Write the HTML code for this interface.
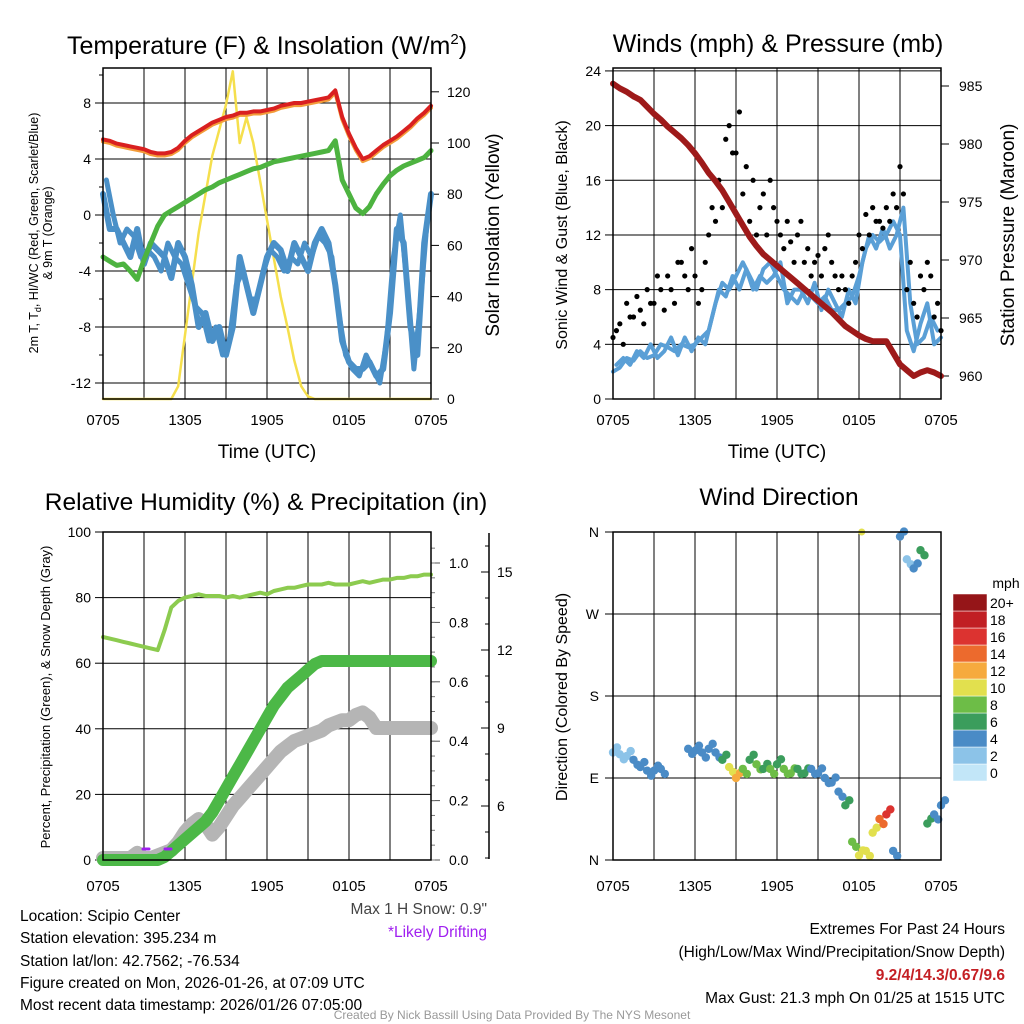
<!DOCTYPE html>
<html><head><meta charset="utf-8"><style>
body{margin:0;background:#fff;}
svg{display:block;font-family:"Liberation Sans",sans-serif;}
</style></head><body>
<svg id="s" width="1024" height="1024" viewBox="0 0 1024 1024" xmlns="http://www.w3.org/2000/svg">
<rect width="1024" height="1024" fill="#fff"/>
<g id="g1"></g>
<g id="g2"></g>
<g id="g3"></g>
<g id="g4"></g>
<g id="txt" font-size="15.5" fill="#000">
<text x="20" y="921">Location: Scipio Center</text>
<text x="20" y="943">Station elevation: 395.234 m</text>
<text x="20" y="966">Station lat/lon: 42.7562; -76.534</text>
<text x="20" y="982" dy="6">Figure created on Mon, 2026-01-26, at 07:09 UTC</text>
<text x="20" y="1004" dy="6">Most recent data timestamp: 2026/01/26 07:05:00</text>
<text x="487" y="914" text-anchor="end" fill="#444">Max 1 H Snow: 0.9"</text>
<text x="487" y="937" text-anchor="end" fill="#a020f0">*Likely Drifting</text>
<text x="1005" y="934" text-anchor="end">Extremes For Past 24 Hours</text>
<text x="1005" y="957" text-anchor="end">(High/Low/Max Wind/Precipitation/Snow Depth)</text>
<text x="1005" y="980" text-anchor="end" fill="#c41f24" font-weight="bold">9.2/4/14.3/0.67/9.6</text>
<text x="1005" y="1003" text-anchor="end">Max Gust: 21.3 mph On 01/25 at 1515 UTC</text>
<text x="512" y="1019" text-anchor="middle" font-size="12" fill="#999">Created By Nick Bassill Using Data Provided By The NYS Mesonet</text>
</g>
</svg>
<script>
// ---------- data (half-hourly, hours 0..24 from 0705 UTC) ----------
const timeLabels=["0705","1305","1905","0105","0705"];
const tempRed=[5.4,5.3,5.1,5.0,4.9,4.8,4.7,4.5,4.4,4.4,4.5,4.8,5.3,5.7,6.0,6.3,6.6,6.8,7.0,7.1,7.3,7.3,7.4,7.4,7.5,7.6,7.8,7.9,8.0,8.0,8.1,8.2,8.3,8.4,8.9,7.0,5.8,4.8,4.0,4.2,4.6,5.0,5.3,5.6,6.0,6.4,6.9,7.3,7.8];
const tempGreen=[-3.0,-3.3,-3.6,-3.5,-4.0,-4.6,-3.2,-2.0,-0.8,0.0,0.3,0.6,0.9,1.2,1.5,1.8,2.0,2.3,2.5,2.7,2.9,3.1,3.3,3.4,3.6,3.8,3.9,4.0,4.1,4.2,4.3,4.4,4.5,4.6,5.3,2.5,1.5,0.5,0.1,0.6,1.5,2.2,2.8,3.2,3.5,3.7,3.9,4.1,4.6];
const tempBlue=[1.5,-1,-1,-2,-3,-1,-3.5,-2,-2.5,-3,-4.5,-2,-3,-5,-8,-7,-9,-8,-10,-8,-3,-5,-7,-5,-3,-2,-2.5,-4,-2,-3,-4,-2,-1,-2,-5,-9,-10.5,-11,-11,-10.5,-11.5,-11,-7,-1,-2,-8,-10,-2,1.5];
const tempBlue2=[2.5,0,-2,-1,-1.5,-3,-2.5,-3,-4,-2,-3,-3.5,-5,-6.5,-7,-9,-8,-10,-9,-5,-4,-6,-6,-4,-2.5,-3,-4,-3,-3.5,-2,-3,-1.5,-2,-3,-7,-10,-11,-11.5,-10,-11,-12,-9,-3,0,-5,-11,-6,0,2];
const solar=[0,0,0,0,0,0,0,0,0,0,0,5,25,45,65,80,95,105,115,128,100,110,100,85,70,55,40,28,15,5,1,0,0,0,0,0,0,0,0,0,0,0,0,0,0,0,0,0,0];
const windSpd=[2,2.3,3,2.8,3.5,3,3.2,4,3.8,3.5,4,3.8,4,4.5,5,7,8.5,8,9,10,9,8,9.5,10,9,8,7.5,7,8,7.5,7,7.5,6.5,6.5,7,7.5,9,11,12,11.5,12,13,12,5,3.5,5.5,7,4,4.5];
const windSpd2=[2.5,3,2.5,3.5,3,4,3,3.5,4.5,3.2,4.5,3.5,4.5,4,6,8,7.5,9,8,9.5,8,9,8.5,9,10,7,8,8,7,8.5,6.5,8,7,6,8,7,10,12,11,12.5,11,12,14,7,4,4.5,6,5,3.5];
const windGust=[4.5,5.5,7,6,6.5,8,7,8,9,7,10,8,9,8,12,13,14,20,18,15,13,12,15,16,13,11,11.5,12,10,9,10.5,11,10,8,8,9,12,13.5,14,13,14,15,17,8,7,9,10,6,5];
const windGust2=[5,4,6,7.5,5.5,7,9,6.5,8,10,9,11,7,10,14,16,19,18,21,17,16,14,12,14,12,13,10,13,11,10,9,12,9,9,7,10,11,12,13,12.5,13,14,15,10,6,8,9,7,4.5];
const pressure=[985.2,984.8,984.5,984.1,983.8,983.2,982.6,982.1,981.5,981.0,980.5,979.9,979.2,978.4,977.5,976.8,976,975,974,973,972,971.2,970.5,970,969.5,969,968.5,968,967.5,967,966.5,966,965.5,964.9,964.3,963.9,963.5,963.2,963,963,963,962,961,960.5,960,960.3,960.5,960.3,960];
const rh=[68,67.5,67,66.5,66,65.5,65,64.5,64,70,77,79,80,80.5,81,80.5,80.5,80.5,80,80.5,80,80.5,81,81.5,81,82,82.5,83,83,83.5,84,84,84,84.5,84,84,84,84.5,85,84.5,85,85.5,85.5,86,86,86.5,86.5,87,87];
const precip=[0,0,0,0,0,0,0,0,0,0.01,0.03,0.05,0.07,0.09,0.11,0.13,0.16,0.2,0.24,0.28,0.32,0.36,0.4,0.44,0.48,0.52,0.55,0.58,0.6,0.62,0.64,0.66,0.67,0.67,0.67,0.67,0.67,0.67,0.67,0.67,0.67,0.67,0.67,0.67,0.67,0.67,0.67,0.67,0.67];
const snow=[4.0,4.0,4.0,4.0,4.0,4.2,4.0,4.0,4.1,4.2,4.3,4.6,5.0,5.3,5.5,5.3,4.9,5.2,5.6,6.0,6.3,6.6,6.9,7.2,7.5,7.8,8.1,8.3,8.5,8.6,8.7,8.8,8.9,9.1,9.2,9.3,9.3,9.5,9.6,9.4,9.0,9.0,9.0,9.0,9.0,9.0,9.0,9.0,9.0];
const windDir=[118,116,114,110,102,98,98,100,null,null,null,122,120,118,122,118,110,102,90,100,110,105,100,100,105,100,95,100,95,100,95,90,85,75,60,20,5,10,30,45,50,10,355,330,320,340,40,50,60];
const dirSpd=[2,2,2,3,4,4,4,4,null,null,null,4,4,4,4,4,6,10,12,8,6,8,6,8,6,8,8,6,6,4,4,4,4,4,6,8,10,10,10,14,16,4,4,2,4,6,6,4,4];
const cbLabels=["0","2","4","6","8","10","12","14","16","18","20+"];
const cbColors=["#c2e6f8","#8cc3e8","#4a8bc6","#3b9d5c","#6dbd47","#e2e04e","#f6aa3e","#ec6a2d","#dc3330","#c11f24","#951518"];

const NS="http://www.w3.org/2000/svg";
function mk(p,tag,at){const e=document.createElementNS(NS,tag);for(const k in at)e.setAttribute(k,at[k]);p.appendChild(e);return e;}
function txt(p,x,y,s,at){const e=mk(p,'text',Object.assign({x:x,y:y},at||{}));e.textContent=s;return e;}
const hrs=tempRed.map((_,i)=>i*0.5);

function frame(g,x0,y0,x1,y1,off){
  for(let k=1;k<8;k++){const x=x0+(x1-x0)*k/8;const l=mk(g,'line',{x1:x,x2:x,y1:y0,y2:y1,stroke:'#000','stroke-width':1});
  }
  timeLabels.forEach((s,i)=>{const x=x0+(x1-x0)*i/4;const t=txt(g,x,y1+off,s,{'text-anchor':'middle','font-size':15});
  });
}
function border(g,x0,y0,x1,y1){const r=mk(g,'rect',{x:x0,y:y0,width:x1-x0,height:y1-y0,fill:'none',stroke:'#000','stroke-width':1.5});
}
function poly(g,xs,ys,at,name){const pts=[];xs.forEach((x,i)=>{if(ys[i]!=null)pts.push(x.toFixed(1)+','+ys[i].toFixed(1));});
const p=mk(g,'polyline',Object.assign({points:pts.join(' '),fill:'none','stroke-linejoin':'round','stroke-linecap':'round'},at));
return p;}

// ---------- Panel 1 ----------
(function(){const g=document.getElementById('g1');const x0=103,x1=431,y0=68,y1=399;
const X=h=>x0+(x1-x0)*h/24, Y=v=>215-14*v, YS=v=>399-2.56*v;
frame(g,x0,y0,x1,y1,26);
[8,4,0,-4,-8,-12].forEach(v=>{mk(g,'line',{x1:x0,x2:x1,y1:Y(v),y2:Y(v),stroke:'#000'});
 const t=txt(g,x0-12,Y(v)+5,String(v),{'text-anchor':'end','font-size':14});
 mk(g,'line',{x1:x0-8,x2:x0,y1:Y(v),y2:Y(v),stroke:'#000'});});
for(let v=-12;v<=10;v+=2)mk(g,'line',{x1:x0-4,x2:x0,y1:Y(v),y2:Y(v),stroke:'#000'});
[0,20,40,60,80,100,120].forEach(v=>{const t=txt(g,x1+16,YS(v)+5,String(v),{'font-size':14});
 mk(g,'line',{x1:x1,x2:x1+8,y1:YS(v),y2:YS(v),stroke:'#000'});});
const xs=hrs.map(X);const xs2=hrs.map(h=>X(h+0.25));
poly(g,xs,solar.map(YS),{stroke:'#f5df4d','stroke-width':2.5},'solar-line');
poly(g,xs,tempBlue.map(Y),{stroke:'#4a90c8','stroke-width':6},'windchill-line');
poly(g,xs2.slice(0,48),tempBlue2.slice(0,48).map(Y),{stroke:'#4a90c8','stroke-width':5},'windchill-line-detail');
poly(g,xs,tempGreen.map(Y),{stroke:'#4db340','stroke-width':5},'dewpoint-line');
poly(g,xs,tempRed.map(v=>Y(v-0.15)),{stroke:'#f39c3a','stroke-width':4},'temp-9m-line');
poly(g,xs,tempRed.map(Y),{stroke:'#d92020','stroke-width':4},'temp-2m-line');
border(g,x0,y0,x1,y1);
let t=txt(g,267,54,'Temperature (F) & Insolation (W/m',{'text-anchor':'middle','font-size':25});const ts=mk(t,'tspan',{dy:-10,'font-size':15});ts.textContent='2';const ts2=mk(t,'tspan',{dy:10});ts2.textContent=')';

t=txt(g,267,458,'Time (UTC)',{'text-anchor':'middle','font-size':19});
t=txt(g,0,0,'2m T, T',{'text-anchor':'middle','font-size':12.5,transform:'translate(38,233) rotate(-90)'});const sb=mk(t,'tspan',{'font-size':9,dy:3});sb.textContent='d';const r=mk(t,'tspan',{dy:-3});r.textContent=', HI/WC (Red, Green, Scarlet/Blue)';

t=txt(g,0,0,'& 9m T (Orange)',{'text-anchor':'middle','font-size':12.5,transform:'translate(52,233) rotate(-90)'});
t=txt(g,0,0,'Solar Insolation (Yellow)',{'text-anchor':'middle','font-size':19,transform:'translate(499,235) rotate(-90)'});
})();

// ---------- Panel 2 ----------
(function(){const g=document.getElementById('g2');const x0=613,x1=941,y0=68,y1=399;
const X=h=>x0+(x1-x0)*h/24, Y=v=>399-13.67*v, YP=p=>376-(p-960)*11.6;
frame(g,x0,y0,x1,y1,26);
[0,4,8,12,16,20,24].forEach(v=>{mk(g,'line',{x1:x0,x2:x1,y1:Y(v),y2:Y(v),stroke:'#000'});
 const t=txt(g,x0-12,Y(v)+5,String(v),{'text-anchor':'end','font-size':14});
 mk(g,'line',{x1:x0-8,x2:x0,y1:Y(v),y2:Y(v),stroke:'#000'});});
[960,965,970,975,980,985].forEach(v=>{const t=txt(g,x1+18,YP(v)+5,String(v),{'font-size':14});
 mk(g,'line',{x1:x1,x2:x1+8,y1:YP(v),y2:YP(v),stroke:'#000'});});
const xs=hrs.map(X);const xs2=hrs.map(h=>X(h+0.25));
poly(g,xs,windSpd.map(Y),{stroke:'#5a9fd6','stroke-width':4},'wind-speed-line');
poly(g,xs2.slice(0,48),windSpd2.slice(0,48).map(Y),{stroke:'#5a9fd6','stroke-width':4},'wind-speed-line-detail');
windGust.forEach((v,i)=>{const c=mk(g,'circle',{cx:X(hrs[i]),cy:Y(v),r:2.6,fill:'#000'});});
windGust2.forEach((v,i)=>{if(i>47)return;const c=mk(g,'circle',{cx:X(hrs[i]+0.25),cy:Y(v),r:2.6,fill:'#000'});});
poly(g,xs,pressure.map(YP),{stroke:'#9e1a1a','stroke-width':6},'pressure-line');
border(g,x0,y0,x1,y1);
let t=txt(g,778,52,'Winds (mph) & Pressure (mb)',{'text-anchor':'middle','font-size':25});
t=txt(g,777,458,'Time (UTC)',{'text-anchor':'middle','font-size':19});
t=txt(g,0,0,'Sonic Wind & Gust (Blue, Black)',{'text-anchor':'middle','font-size':16,transform:'translate(567,235) rotate(-90)'});
t=txt(g,0,0,'Station Pressure (Maroon)',{'text-anchor':'middle','font-size':19,transform:'translate(1014,235) rotate(-90)'});
})();

// ---------- Panel 3 ----------
(function(){const g=document.getElementById('g3');const x0=103,x1=431,y0=532,y1=860;
const X=h=>x0+(x1-x0)*h/24, Y=v=>860-3.28*v, YR=v=>860-297*v, YSn=v=>962-26*v;
frame(g,x0,y0,x1,y1,31);
[0,20,40,60,80,100].forEach(v=>{mk(g,'line',{x1:x0,x2:x1,y1:Y(v),y2:Y(v),stroke:'#000'});
 const t=txt(g,x0-12,Y(v)+5,String(v),{'text-anchor':'end','font-size':14});
 mk(g,'line',{x1:x0-8,x2:x0,y1:Y(v),y2:Y(v),stroke:'#000'});});
[0,0.2,0.4,0.6,0.8,1.0].forEach(v=>{const t=txt(g,x1+18,YR(v)+5,v.toFixed(1),{'font-size':14});
 mk(g,'line',{x1:x1,x2:x1+9,y1:YR(v),y2:YR(v),stroke:'#555'});});
for(let v=0;v<=1.1;v+=0.05)mk(g,'line',{x1:x1,x2:x1+4,y1:YR(v),y2:YR(v),stroke:'#777'});
mk(g,'line',{x1:489,x2:489,y1:533,y2:859,stroke:'#000','stroke-width':1.5});
[6,9,12,15].forEach(v=>{const t=txt(g,497,YSn(v)+5,String(v),{'font-size':14});
 mk(g,'line',{x1:481,x2:489,y1:YSn(v),y2:YSn(v),stroke:'#000'});});
for(let v=4;v<=16;v++)mk(g,'line',{x1:485,x2:489,y1:YSn(v),y2:YSn(v),stroke:'#000'});
const xs=hrs.map(X);
poly(g,xs,snow.map(YSn),{stroke:'#b5b5b5','stroke-width':14},'snow-depth-line');
poly(g,xs,precip.map(YR),{stroke:'#4cb847','stroke-width':12},'precip-line');
poly(g,xs,rh.map(Y),{stroke:'#8ccb4f','stroke-width':4},'rh-line');
[146,168].forEach(x=>{const m=mk(g,'line',{x1:x-3,x2:x+3,y1:849,y2:849,stroke:'#a020f0','stroke-width':3,'stroke-linecap':'round'});});
border(g,x0,y0,x1,y1);
let t=txt(g,266,510,'Relative Humidity (%) & Precipitation (in)',{'text-anchor':'middle','font-size':24.5});
t=txt(g,0,0,'Percent, Precipitation (Green), & Snow Depth (Gray)',{'text-anchor':'middle','font-size':13,transform:'translate(50,697) rotate(-90)'});
})();

// ---------- Panel 4 ----------
(function(){const g=document.getElementById('g4');const x0=613,x1=941,y0=532,y1=860;
const X=h=>x0+(x1-x0)*h/24, Y=d=>860-d*328/360;
frame(g,x0,y0,x1,y1,31);
[[0,'N'],[90,'E'],[180,'S'],[270,'W'],[360,'N']].forEach(([d,s])=>{mk(g,'line',{x1:x0,x2:x1,y1:Y(d),y2:Y(d),stroke:'#000'});
 const t=txt(g,x0-14,Y(d)+5,s,{'text-anchor':'end','font-size':14});
 mk(g,'line',{x1:x0-8,x2:x0,y1:Y(d),y2:Y(d),stroke:'#000'});});
const col=s=>cbColors[Math.min(10,Math.round(s/2))];
windDir.forEach((d,i)=>{if(d==null)return;const c=mk(g,'circle',{cx:X(hrs[i]),cy:Y(d),r:4.2,fill:col(dirSpd[i])});
 
 const c2=mk(g,'circle',{cx:X(hrs[i])+4,cy:Y(d)+(i%2?5:-5),r:4.2,fill:col(dirSpd[i])});
 });
const c3=mk(g,'circle',{cx:X(18.2),cy:Y(360),r:3.5,fill:'#e2e04e'});
border(g,x0,y0,x1,y1);
cbColors.forEach((c,i)=>{const r=mk(g,'rect',{x:953,y:781-(i+1)*17,width:34,height:17,fill:c,stroke:'#fff','stroke-width':0.5});
 
 const t=txt(g,990,781-(i+1)*17+14,cbLabels[i],{'font-size':14});});
let t=txt(g,1006,588,'mph',{'font-size':14,'text-anchor':'middle'});
t=txt(g,779,505,'Wind Direction',{'text-anchor':'middle','font-size':24.5});
t=txt(g,0,0,'Direction (Colored By Speed)',{'text-anchor':'middle','font-size':16,transform:'translate(567,697) rotate(-90)'});
})();
</script>
</body></html>
